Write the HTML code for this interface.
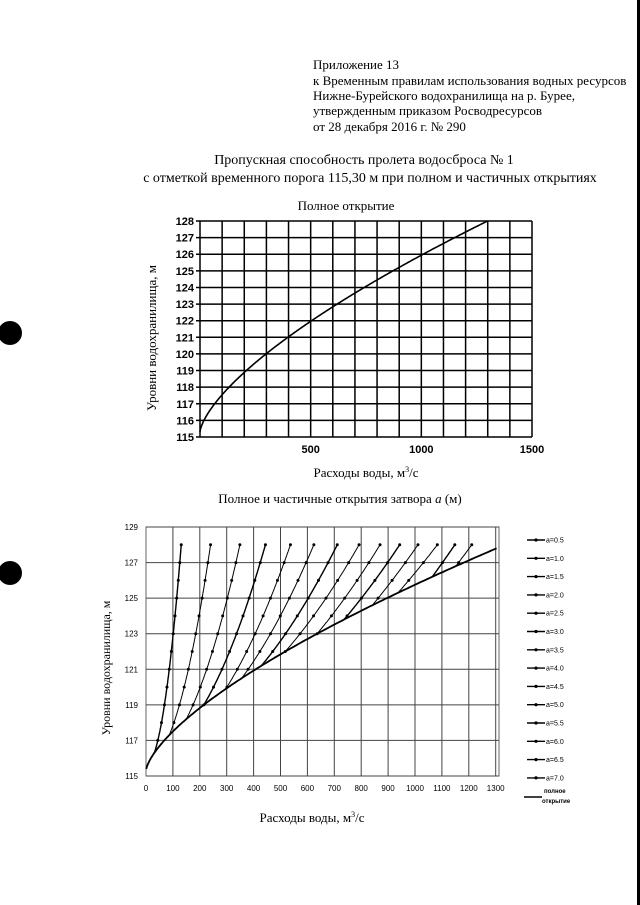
<!DOCTYPE html>
<html><head><meta charset="utf-8"><style>
body{margin:0;background:#fff;}
svg{display:block}
.t{font-family:"Liberation Serif",serif;fill:#000}
.s{font-family:"Liberation Sans",sans-serif;fill:#000}
</style></head><body>
<svg id="g" width="640" height="905" xmlns="http://www.w3.org/2000/svg">
<rect width="640" height="905" fill="#fff"/>
<rect x="637" y="0" width="3" height="905" fill="#000"/>
<circle cx="10" cy="333" r="12" fill="#000"/>
<circle cx="10" cy="573" r="12" fill="#000"/>
<g class="t" font-size="13">
<text x="313" y="69">Приложение 13</text>
<text x="313" y="85">к Временным правилам использования водных ресурсов</text>
<text x="313" y="100">Нижне-Бурейского водохранилища на р. Бурее,</text>
<text x="313" y="115">утвержденным приказом Росводресурсов</text>
<text x="313" y="131">от 28 декабря 2016 г. № 290</text>
</g>
<g class="t" font-size="14" text-anchor="middle">
<text x="364" y="164">Пропускная способность пролета водосброса № 1</text>
<text x="370" y="182">с отметкой временного порога 115,30 м при полном и частичных открытиях</text>
<text x="346" y="210" font-size="13">Полное открытие</text>
<text x="366" y="477" font-size="13">Расходы воды, м<tspan font-size="8" dy="-5">3</tspan><tspan dy="5">/с</tspan></text>
<text x="340" y="503" font-size="13">Полное и частичные открытия затвора <tspan font-style="italic">a</tspan> (м)</text>
<text x="312" y="822" font-size="13">Расходы воды, м<tspan font-size="8" dy="-5">3</tspan><tspan dy="5">/с</tspan></text>
</g>
<text class="t" font-size="13" text-anchor="middle" transform="translate(156,338) rotate(-90)">Уровни водохранилища, м</text>
<text class="t" font-size="12" text-anchor="middle" transform="translate(110,668) rotate(-90)">Уровни водохранилища, м</text>
<g id="top"></g>
<g id="bot"></g>
</svg>
<script>
var NS="http://www.w3.org/2000/svg";
function el(p,n,a,txt){var e=document.createElementNS(NS,n);for(var k in a)e.setAttribute(k,a[k]);if(txt!=null)e.textContent=txt;p.appendChild(e);return e;}
function fq(h){return h<=115.3?0:30.2*Math.pow(h-115.3,1.48);}
function fb(h){return 1.027*fq(h);}
var T=document.getElementById('top');
var L=200,R=532,TT=221,B=437;
function tx(q){return L+(R-L)*q/1500;} function ty(h){return B-(B-TT)*(h-115)/13;}
for(var q=0;q<=1500;q+=100)el(T,'line',{x1:tx(q),x2:tx(q),y1:TT,y2:B,stroke:'#000','stroke-width':1.5});
for(var h=115;h<=128;h++){el(T,'line',{x1:L-4,x2:R,y1:ty(h),y2:ty(h),stroke:'#000','stroke-width':1.5});
el(T,'text',{x:L-6,y:ty(h)+4,'text-anchor':'end','font-size':11,'font-weight':'bold',class:'s'},h);}
[500,1000,1500].forEach(function(v){el(T,'text',{x:tx(v),y:B+16,'text-anchor':'middle','font-size':11,'font-weight':'bold',class:'s'},v);});
var d='';for(var h=115.3;h<=128.001;h+=0.05){d+=(d?'L':'M')+tx(fq(h)).toFixed(1)+','+ty(h).toFixed(1);}
el(T,'path',{d:d,fill:'none',stroke:'#000','stroke-width':1.6});
var G=document.getElementById('bot');
var bL=146,bT=527,bB=776,sx=26.9;
function bx(q){return bL+q*sx/100;} function by(h){return bB-(bB-bT)*(h-115)/14;}
el(G,'rect',{x:bL,y:bT,width:499-bL,height:bB-bT,fill:'none',stroke:'#666','stroke-width':1});
for(var q=100;q<=1300;q+=100)el(G,'line',{x1:bx(q),x2:bx(q),y1:bT,y2:bB,stroke:'#444','stroke-width':1});
for(var h=115;h<=129;h+=2){el(G,'line',{x1:bL,x2:499,y1:by(h),y2:by(h),stroke:'#444','stroke-width':1});
el(G,'text',{x:bL-8,y:by(h)+3,'text-anchor':'end','font-size':8,class:'s'},h);}
for(var q=0;q<=1300;q+=100)el(G,'text',{x:bx(q),y:bB+15,'text-anchor':'middle','font-size':8,class:'s'},q);
var d2='';for(var h=115.4;h<=127.8;h+=0.05){d2+=(d2?'L':'M')+bx(fb(h)).toFixed(1)+','+by(h).toFixed(1);}
el(G,'path',{d:d2,fill:'none',stroke:'#000','stroke-width':1.8});
var tops=[131,240,349,444,537,624,711,792,870,943,1011,1083,1148,1211];
var hs=[116.3,117.3,118.2,119.0,119.9,120.5,121.2,122.0,123.0,123.8,124.6,125.3,126.2,126.8];
for(var i=0;i<14;i++){var a=0.5*(i+1),Qt=tops[i],Qs=fb(hs[i]),r=(Qs/Qt)*(Qs/Qt),c=(hs[i]-128*r)/(1-r),k=Qt/Math.sqrt(128-c);
var p='';for(var h=hs[i];h<=128.001;h+=0.05){p+=(p?'L':'M')+bx(k*Math.sqrt(h-c)).toFixed(1)+','+by(h).toFixed(1);}
el(G,'path',{d:p,fill:'none',stroke:'#000','stroke-width':i%3==0?1.4:1});
for(var h=Math.ceil(hs[i]);h<=128;h+=1){el(G,'circle',{cx:bx(k*Math.sqrt(h-c)),cy:by(h),r:1.5,fill:'#000'});}
var ly=540+i*18.3;el(G,'line',{x1:527,x2:545,y1:ly,y2:ly,stroke:'#000','stroke-width':1.4});
el(G,'circle',{cx:536,cy:ly,r:1.6,fill:'#000'});
el(G,'text',{x:546,y:ly+2.5,'font-size':7,class:'s'},'a='+a.toFixed(1));}
el(G,'line',{x1:524,x2:542,y1:797,y2:797,stroke:'#000','stroke-width':1.5});
el(G,'text',{x:544,y:793,'font-size':6,class:'s','font-weight':'bold'},'полное');
el(G,'text',{x:542,y:803,'font-size':6,class:'s','font-weight':'bold'},'открытие');
</script>
</body></html>
